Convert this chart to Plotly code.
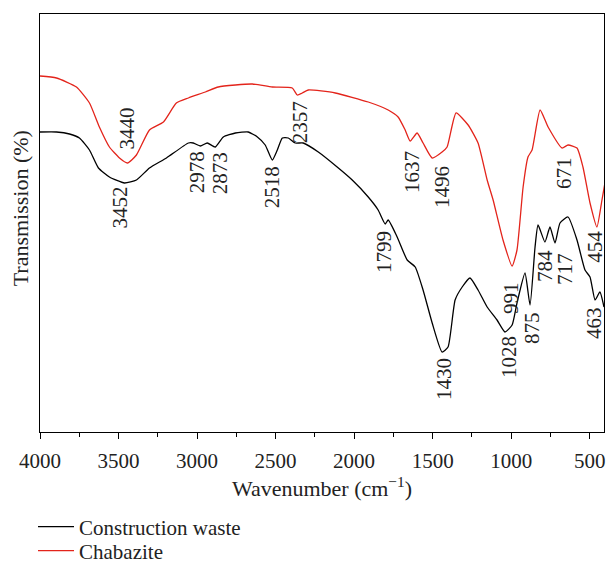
import plotly.graph_objects as go

# Construction waste (black) spectrum: wavenumber (cm^-1) and transmission (a.u.)
wn_cw = [4000, 3895, 3812, 3749, 3685, 3628, 3558, 3462, 3386, 3303, 3195, 3055, 3024, 2979,
         2935, 2884, 2833, 2756, 2674, 2616, 2566, 2521, 2489, 2457, 2419, 2375, 2324, 2228,
         2108, 2012, 1910, 1847, 1802, 1783, 1726, 1662, 1611, 1561, 1503, 1440, 1402, 1357,
         1312, 1262, 1211, 1153, 1090, 1039, 994, 963, 912, 880, 848, 829, 785, 753, 721, 689,
         638, 581, 530, 498, 466, 435, 409]
t_cw = [300, 300, 298, 294, 282, 264, 255, 249, 252, 264, 274, 289, 289, 286,
        289, 285, 295, 299, 300, 295, 287, 272, 282, 294, 294, 289, 289, 280,
        265, 252, 235, 222, 208, 212, 195, 172, 165, 142, 109, 80, 85, 132,
        145, 154, 142, 125, 112, 100, 107, 129, 159, 127, 185, 207, 190, 205, 189, 209,
        215, 192, 162, 155, 132, 140, 125]

# Chabazite (red) spectrum
wn_ch = [4000, 3895, 3768, 3685, 3622, 3558, 3494, 3443, 3386, 3303, 3214, 3132, 3055, 2947,
         2865, 2756, 2648, 2521, 2394, 2362, 2330, 2292, 2120, 1910, 1783, 1720, 1675, 1643,
         1599, 1561, 1503, 1440, 1408, 1351, 1274, 1211, 1153, 1115, 1052, 994, 963, 924,
         893, 867, 816, 765, 676, 638, 581, 543, 498, 454, 422, 403]
t_ch = [356, 354, 345, 329, 305, 285, 274, 269, 277, 302, 310, 329, 334, 340,
        345, 347, 348, 345, 344, 337, 339, 342, 339, 330, 322, 315, 302, 291,
        299, 289, 274, 280, 285, 319, 307, 289, 252, 232, 192, 166, 182, 245,
        275, 282, 322, 305, 284, 287, 284, 265, 229, 205, 232, 249]

# Peak labels
peak_text = ["3440", "3452", "2978", "2873", "2518", "2357", "1637", "1496", "1799",
             "1430", "1028", "991", "875", "784", "717", "671", "454", "463"]
peak_x = [3443, 3488, 2998, 2852, 2521, 2343, 1631, 1440, 1809,
          1427, 1014, 1001, 867, 784, 657, 664, 468, 473]
peak_y = [304, 225, 260, 259, 245, 310, 260, 245, 180,
          53, 75, 134, 104, 166, 163, 259, 185, 109]

FONT = "Liberation Serif, Times New Roman, serif"
TXT = "#222"

fig = go.Figure()
fig.add_trace(go.Scatter(x=wn_cw, y=t_cw, mode="lines", name="Construction waste",
                         legend="legend",
                         line=dict(color="black", width=1.3, shape="spline", smoothing=0.5)))
fig.add_trace(go.Scatter(x=wn_ch, y=t_ch, mode="lines", name="Chabazite",
                         legend="legend2",
                         line=dict(color="#e3241b", width=1.3, shape="spline", smoothing=0.5)))

for txt, px, py in zip(peak_text, peak_x, peak_y):
    fig.add_annotation(x=px, y=py, text=txt, textangle=-90, showarrow=False,
                       font=dict(family=FONT, size=21, color=TXT))

# y-axis title (placed slightly above centre, as in the original)
fig.add_annotation(xref="paper", yref="paper", x=-0.0355, y=0.535, text="Transmission (%)",
                   textangle=-90, showarrow=False, xanchor="center", yanchor="middle",
                   font=dict(family=FONT, size=22, color=TXT))

leg_common = dict(xanchor="left", yanchor="middle", itemwidth=36,
                  font=dict(family=FONT, size=21, color=TXT),
                  bgcolor="rgba(0,0,0,0)")

fig.update_layout(
    width=606, height=563,
    margin=dict(l=40, r=2, t=14, b=131, autoexpand=False),
    paper_bgcolor="white", plot_bgcolor="white",
    font=dict(family=FONT, size=21, color=TXT),
    showlegend=True,
    legend=dict(x=-0.0124, y=-0.2273, **leg_common),
    legend2=dict(x=-0.0124, y=-0.2847, **leg_common),
    xaxis=dict(range=[4000, 409], showgrid=False, zeroline=False,
               showline=True, linecolor="black", linewidth=1, mirror=True,
               ticks="outside", ticklen=6, tickcolor="black",
               tickvals=[4000, 3500, 3000, 2500, 2000, 1500, 1000, 500],
               minor=dict(ticks="outside", ticklen=4, tickcolor="black", dtick=250, tick0=0),
               tickfont=dict(family=FONT, size=21, color=TXT),
               ticklabelstandoff=4,
               title=dict(text="Wavenumber (cm<sup>−1</sup>)", standoff=5,
                          font=dict(family=FONT, size=22, color=TXT)),
               automargin=False),
    yaxis=dict(range=[0, 418], showgrid=False, zeroline=False,
               showline=True, linecolor="black", linewidth=1, mirror=True,
               showticklabels=False, ticks="",
               automargin=False),
)

fig.write_html("out.html")
